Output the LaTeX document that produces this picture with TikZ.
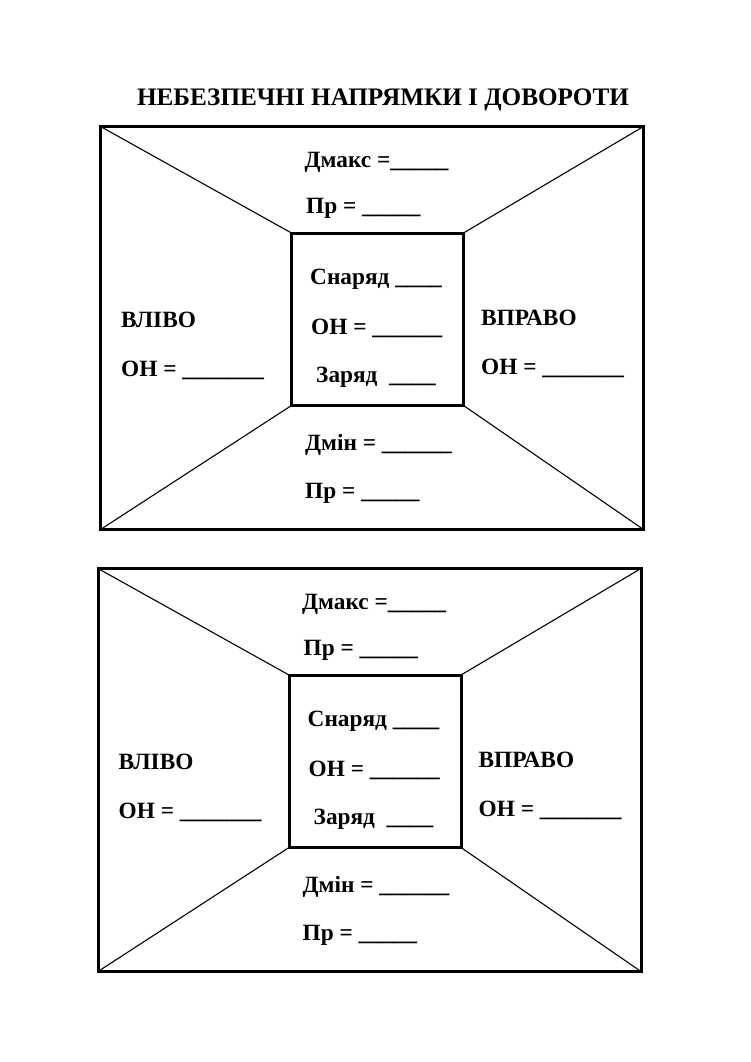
\documentclass[tikz,border=0pt]{standalone}
\usepackage{fontspec}
\setmainfont{Liberation Serif}
\tikzset{
  lbl/.style={anchor=base west, inner sep=0pt, font=\fontsize{23.3}{28}\selectfont\bfseries},
  ttl/.style={anchor=base, inner sep=0pt, font=\fontsize{25.2}{30}\selectfont\bfseries},
  frame/.style={line width=3pt},
  diag/.style={line width=1.1pt},
}
\newcommand\drawpanel[3]{%
\begin{scope}[shift={(#2,#3)}]
  \coordinate (#1A) at (100.5,126.5);
  \coordinate (#1B) at (643.5,126.5);
  \coordinate (#1C) at (643.5,529.5);
  \coordinate (#1D) at (100.5,529.5);
  \coordinate (#1a) at (291.5,233);
  \coordinate (#1b) at (463.5,233);
  \coordinate (#1c) at (463.5,405.5);
  \coordinate (#1d) at (291.5,405.5);
  \draw[diag] (#1A) -- (#1a);
  \draw[diag] (#1B) -- (#1b);
  \draw[diag] (#1C) -- (#1c);
  \draw[diag] (#1D) -- (#1d);
  \draw[frame] (#1A) rectangle (#1C);
  \draw[frame] (#1a) rectangle (#1c);
  \node[lbl] (#1dmax) at (304.5,167) {Дмакс =\_\_\_\_\_};
  \node[lbl] (#1prt) at (306,213) {Пр = \_\_\_\_\_};
  \node[lbl] (#1sn) at (310,284) {Снаряд \_\_\_\_};
  \node[lbl] (#1onc) at (311,334) {ОН = \_\_\_\_\_\_};
  \node[lbl] (#1zar) at (316,382) {Заряд \ \_\_\_\_};
  \node[lbl] (#1vl) at (121,327) {ВЛІВО};
  \node[lbl] (#1onl) at (121,376) {ОН = \_\_\_\_\_\_\_};
  \node[lbl] (#1vp) at (481,325) {ВПРАВО};
  \node[lbl] (#1onr) at (481,374) {ОН = \_\_\_\_\_\_\_};
  \node[lbl] (#1dmin) at (305,450) {Дмін = \_\_\_\_\_\_};
  \node[lbl] (#1prb) at (305,498) {Пр = \_\_\_\_\_};
\end{scope}}
\begin{document}
\begin{tikzpicture}[x=1pt,y=-1pt]
  \useasboundingbox[fill=white] (0,0) rectangle (750,1062);
  \node[ttl] (title) at (383,106) {НЕБЕЗПЕЧНІ НАПРЯМКИ І ДОВОРОТИ};
  \drawpanel{p}{0}{0}
  \drawpanel{q}{-2.5}{442}
\end{tikzpicture}
\end{document}
